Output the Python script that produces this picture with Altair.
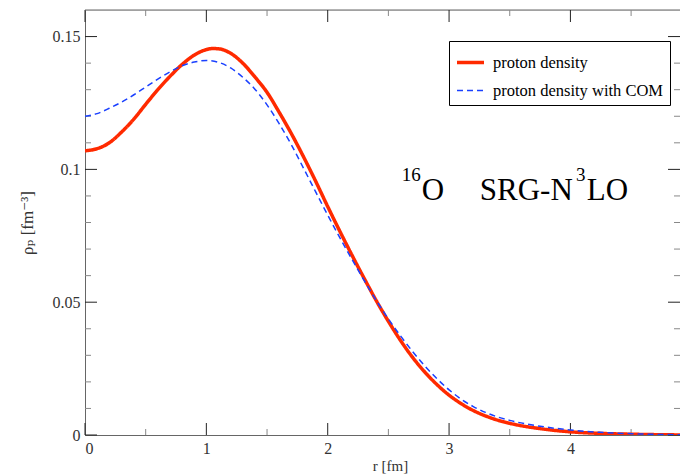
import altair as alt
import pandas as pd

# ---- data ----
series_names = ["proton density", "proton density with COM"]

r_red = [0.0, 0.1, 0.2, 0.3, 0.4, 0.5, 0.6, 0.7, 0.8, 0.9, 1.0, 1.05, 1.1, 1.2, 1.3, 1.4,
         1.5, 1.6, 1.7, 1.8, 1.9, 2.0, 2.1, 2.2, 2.3, 2.4, 2.5, 2.6, 2.7, 2.8, 2.9, 3.0,
         3.1, 3.2, 3.3, 3.4, 3.5, 3.75, 4.0, 4.25, 4.5, 4.75, 5.0]
rho_red = [0.1070, 0.1078, 0.1100, 0.1140, 0.1188, 0.1245, 0.1300, 0.1350, 0.1395, 0.1430,
           0.1451, 0.1455, 0.1454, 0.1437, 0.1400, 0.1348, 0.1290, 0.1215, 0.1135, 0.1048,
           0.0956, 0.0860, 0.0767, 0.0677, 0.0590, 0.0506, 0.0428, 0.0356, 0.0292, 0.0237,
           0.0190, 0.0150, 0.0118, 0.0092, 0.0072, 0.0056, 0.0044, 0.0024, 0.0012, 0.0006,
           0.0003, 0.0001, 0.0]

r_blue = [0.0, 0.1, 0.2, 0.3, 0.4, 0.5, 0.6, 0.7, 0.8, 0.9, 1.0, 1.1, 1.2, 1.3, 1.4, 1.5,
          1.6, 1.7, 1.8, 1.9, 2.0, 2.1, 2.2, 2.3, 2.4, 2.5, 2.6, 2.7, 2.8, 2.9, 3.0, 3.1,
          3.2, 3.3, 3.4, 3.5, 3.75, 4.0, 4.25, 4.5, 4.75, 5.0]
rho_blue = [0.1200, 0.1210, 0.1230, 0.1253, 0.1280, 0.1310, 0.1340, 0.1367, 0.1390, 0.1404,
            0.1410, 0.1403, 0.1382, 0.1347, 0.1302, 0.1243, 0.1172, 0.1093, 0.1005, 0.0916,
            0.0828, 0.0743, 0.0661, 0.0582, 0.0507, 0.0437, 0.0373, 0.0314, 0.0260, 0.0212,
            0.0170, 0.0135, 0.0107, 0.0085, 0.0068, 0.0055, 0.0033, 0.0019, 0.0010, 0.0005,
            0.0002, 0.0]

X_MAX = 4.903
x_major = [0, 1, 2, 3, 4]
x_minor = [0.5, 1.5, 2.5, 3.5, 4.5]
y_major = [0.0, 0.05, 0.10, 0.15]
y_minor = [0.01, 0.02, 0.03, 0.04, 0.06, 0.07, 0.08, 0.09, 0.11, 0.12, 0.13, 0.14]
x_labels = [0, 1, 2, 3, 4]

ann_text = ["16", "O", "SRG-N", "3", "LO"]
ann_r = [2.61, 2.775, 3.253, 4.045, 4.135]
ann_rho = [0.0955, 0.0885, 0.0885, 0.0955, 0.0885]
ann_size = [19, 31, 31, 19, 31]

# ---- layout ----
W, H = 595, 425
FONT = "Liberation Serif, Times New Roman, DejaVu Serif, serif"
MAJ, MIN = 12, 6
FRAME = "#666"

df = pd.DataFrame({
    "r": r_red + r_blue,
    "rho": rho_red + rho_blue,
    "series": [series_names[0]] * len(r_red) + [series_names[1]] * len(r_blue),
})

xs = alt.Scale(domain=[0, X_MAX], nice=False, zero=False)
ys = alt.Scale(domain=[0, 0.16], nice=False, zero=False)

legend = alt.Legend(
    title=None, orient="none", legendX=364, legendY=31,
    symbolType="stroke", symbolSize=729,
    labelFont=FONT, labelFontSize=16.5, labelColor="#000", labelLimit=400,
    strokeColor="#000", fillColor="white", padding=6, rowPadding=5,
    labelOffset=7,
)

lines = alt.Chart(df).mark_line(interpolate="monotone", clip=True).encode(
    x=alt.X("r:Q", scale=xs, axis=alt.Axis(
        values=x_labels, format="d", title="r [fm]",
        labelFont=FONT, labelFontSize=16, labelColor="#333", labelPadding=5,
        titleFont=FONT, titleFontSize=15, titleFontWeight="normal", titleColor="#333",
        titlePadding=2, titleX=305, domain=True, domainColor=FRAME, ticks=False, tickSize=0, grid=False)),
    y=alt.Y("rho:Q", scale=ys, axis=alt.Axis(
        values=y_major, format=".2~f", title="ρₚ  [fm⁻³]",
        labelFont=FONT, labelFontSize=16, labelColor="#333", labelPadding=5,
        titleFont=FONT, titleFontSize=17, titleFontWeight="normal", titleColor="#333",
        titlePadding=16, domain=True, domainColor=FRAME, ticks=False, tickSize=0, grid=False)),
    color=alt.Color("series:N", scale=alt.Scale(domain=series_names, range=["#ff2a00", "#1a40ff"]), legend=legend),
    strokeDash=alt.StrokeDash("series:N", scale=alt.Scale(domain=series_names, range=[[1, 0], [6, 4]]), legend=legend),
    strokeWidth=alt.StrokeWidth("series:N", scale=alt.Scale(domain=series_names, range=[3.5, 1.5]), legend=legend),
    order="r:Q",
)

top_frame = alt.Chart(pd.DataFrame({"v": [0]})).mark_rule(color=FRAME, strokeWidth=1).encode(
    x=alt.value(0), x2=alt.value(W), y=alt.value(0))

def vticks(vals, length, color):
    d = pd.DataFrame({"v": vals})
    bottom = alt.Chart(d).mark_rule(color=color, strokeWidth=1).encode(
        x=alt.X("v:Q", scale=xs), y=alt.value(H), y2=alt.value(H - length))
    top = alt.Chart(d).mark_rule(color=color, strokeWidth=1).encode(
        x=alt.X("v:Q", scale=xs), y=alt.value(0), y2=alt.value(length))
    return bottom + top

def hticks(vals, length, color):
    d = pd.DataFrame({"v": vals})
    left = alt.Chart(d).mark_rule(color=color, strokeWidth=1).encode(
        y=alt.Y("v:Q", scale=ys), x=alt.value(0), x2=alt.value(length))
    right = alt.Chart(d).mark_rule(color=color, strokeWidth=1).encode(
        y=alt.Y("v:Q", scale=ys), x=alt.value(W), x2=alt.value(W - length))
    return left + right

ann_df = pd.DataFrame({"t": ann_text, "r": ann_r, "rho": ann_rho, "s": ann_size})
ann = alt.Chart(ann_df).mark_text(align="left", baseline="alphabetic", font=FONT, color="#000").encode(
    x=alt.X("r:Q", scale=xs), y=alt.Y("rho:Q", scale=ys),
    text="t:N", size=alt.Size("s:Q", scale=None, legend=None),
)

chart = alt.layer(
    top_frame,
    vticks(x_minor, MIN, "#888"), vticks(x_major, MAJ, "#222"),
    hticks(y_minor, MIN, "#888"), hticks(y_major, MAJ, "#222"),
    lines, ann,
).properties(
    width=W, height=H,
    autosize=alt.AutoSizeParams(type="none"),
    padding={"left": 77, "top": 2, "right": 0, "bottom": 39},
).configure_view(stroke=None).configure(background="white")

chart.save("out.html", embed_options={"renderer": "svg", "actions": False})
